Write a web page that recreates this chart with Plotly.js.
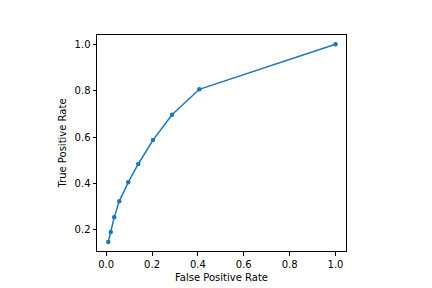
<!DOCTYPE html>
<html>
<head>
<meta charset="utf-8">
<script src="https://cdn.plot.ly/plotly-3.0.1.min.js"></script>
<style>html,body{margin:0;padding:0;background:#fff;}#chart{width:432px;height:288px;}</style>
</head>
<body>
<div id="chart"></div>
<script>
var fpr = [0.009, 0.020, 0.035, 0.057, 0.096, 0.140, 0.204, 0.287, 0.406, 1.0];
var tpr = [0.148, 0.191, 0.254, 0.323, 0.405, 0.484, 0.587, 0.696, 0.806, 1.0];
var xTicks = [0, 0.2, 0.4, 0.6, 0.8, 1.0];
var xTickText = ['0.0', '0.2', '0.4', '0.6', '0.8', '1.0'];
var yTicks = [0.2, 0.4, 0.6, 0.8, 1.0];
var yTickText = ['0.2', '0.4', '0.6', '0.8', '1.0'];

var trace = {
  x: fpr, y: tpr, type: 'scatter', mode: 'lines+markers',
  line: {color: '#1f77b4', width: 1.5},
  marker: {color: '#1f77b4', size: 4.5},
  hoverinfo: 'skip'
};
var axisCommon = {
  showgrid: false, zeroline: false, showline: true, mirror: true,
  linecolor: '#000', linewidth: 1, ticks: 'outside', ticklen: 3.5,
  tickwidth: 1, tickcolor: '#000',
  tickfont: {family: 'DejaVu Sans', size: 10, color: '#000'}
};
var layout = {
  width: 432, height: 288,
  margin: {l: 97, r: 86, t: 35, b: 37},
  paper_bgcolor: '#fff', plot_bgcolor: '#fff',
  showlegend: false,
  font: {family: 'DejaVu Sans', size: 10, color: '#000'},
  xaxis: Object.assign({}, axisCommon, {
    range: [-0.040, 1.0458], tickvals: xTicks, ticktext: xTickText,
    title: {text: 'False Positive Rate', font: {family: 'DejaVu Sans', size: 10, color: '#000'}, standoff: 5}
  }),
  yaxis: Object.assign({}, axisCommon, {
    range: [0.109, 1.040], tickvals: yTicks, ticktext: yTickText,
    title: {text: 'True Positive Rate', font: {family: 'DejaVu Sans', size: 10, color: '#000'}, standoff: 6}
  })
};
Plotly.newPlot('chart', [trace], layout, {displayModeBar: false, staticPlot: true});
</script>
</body>
</html>
